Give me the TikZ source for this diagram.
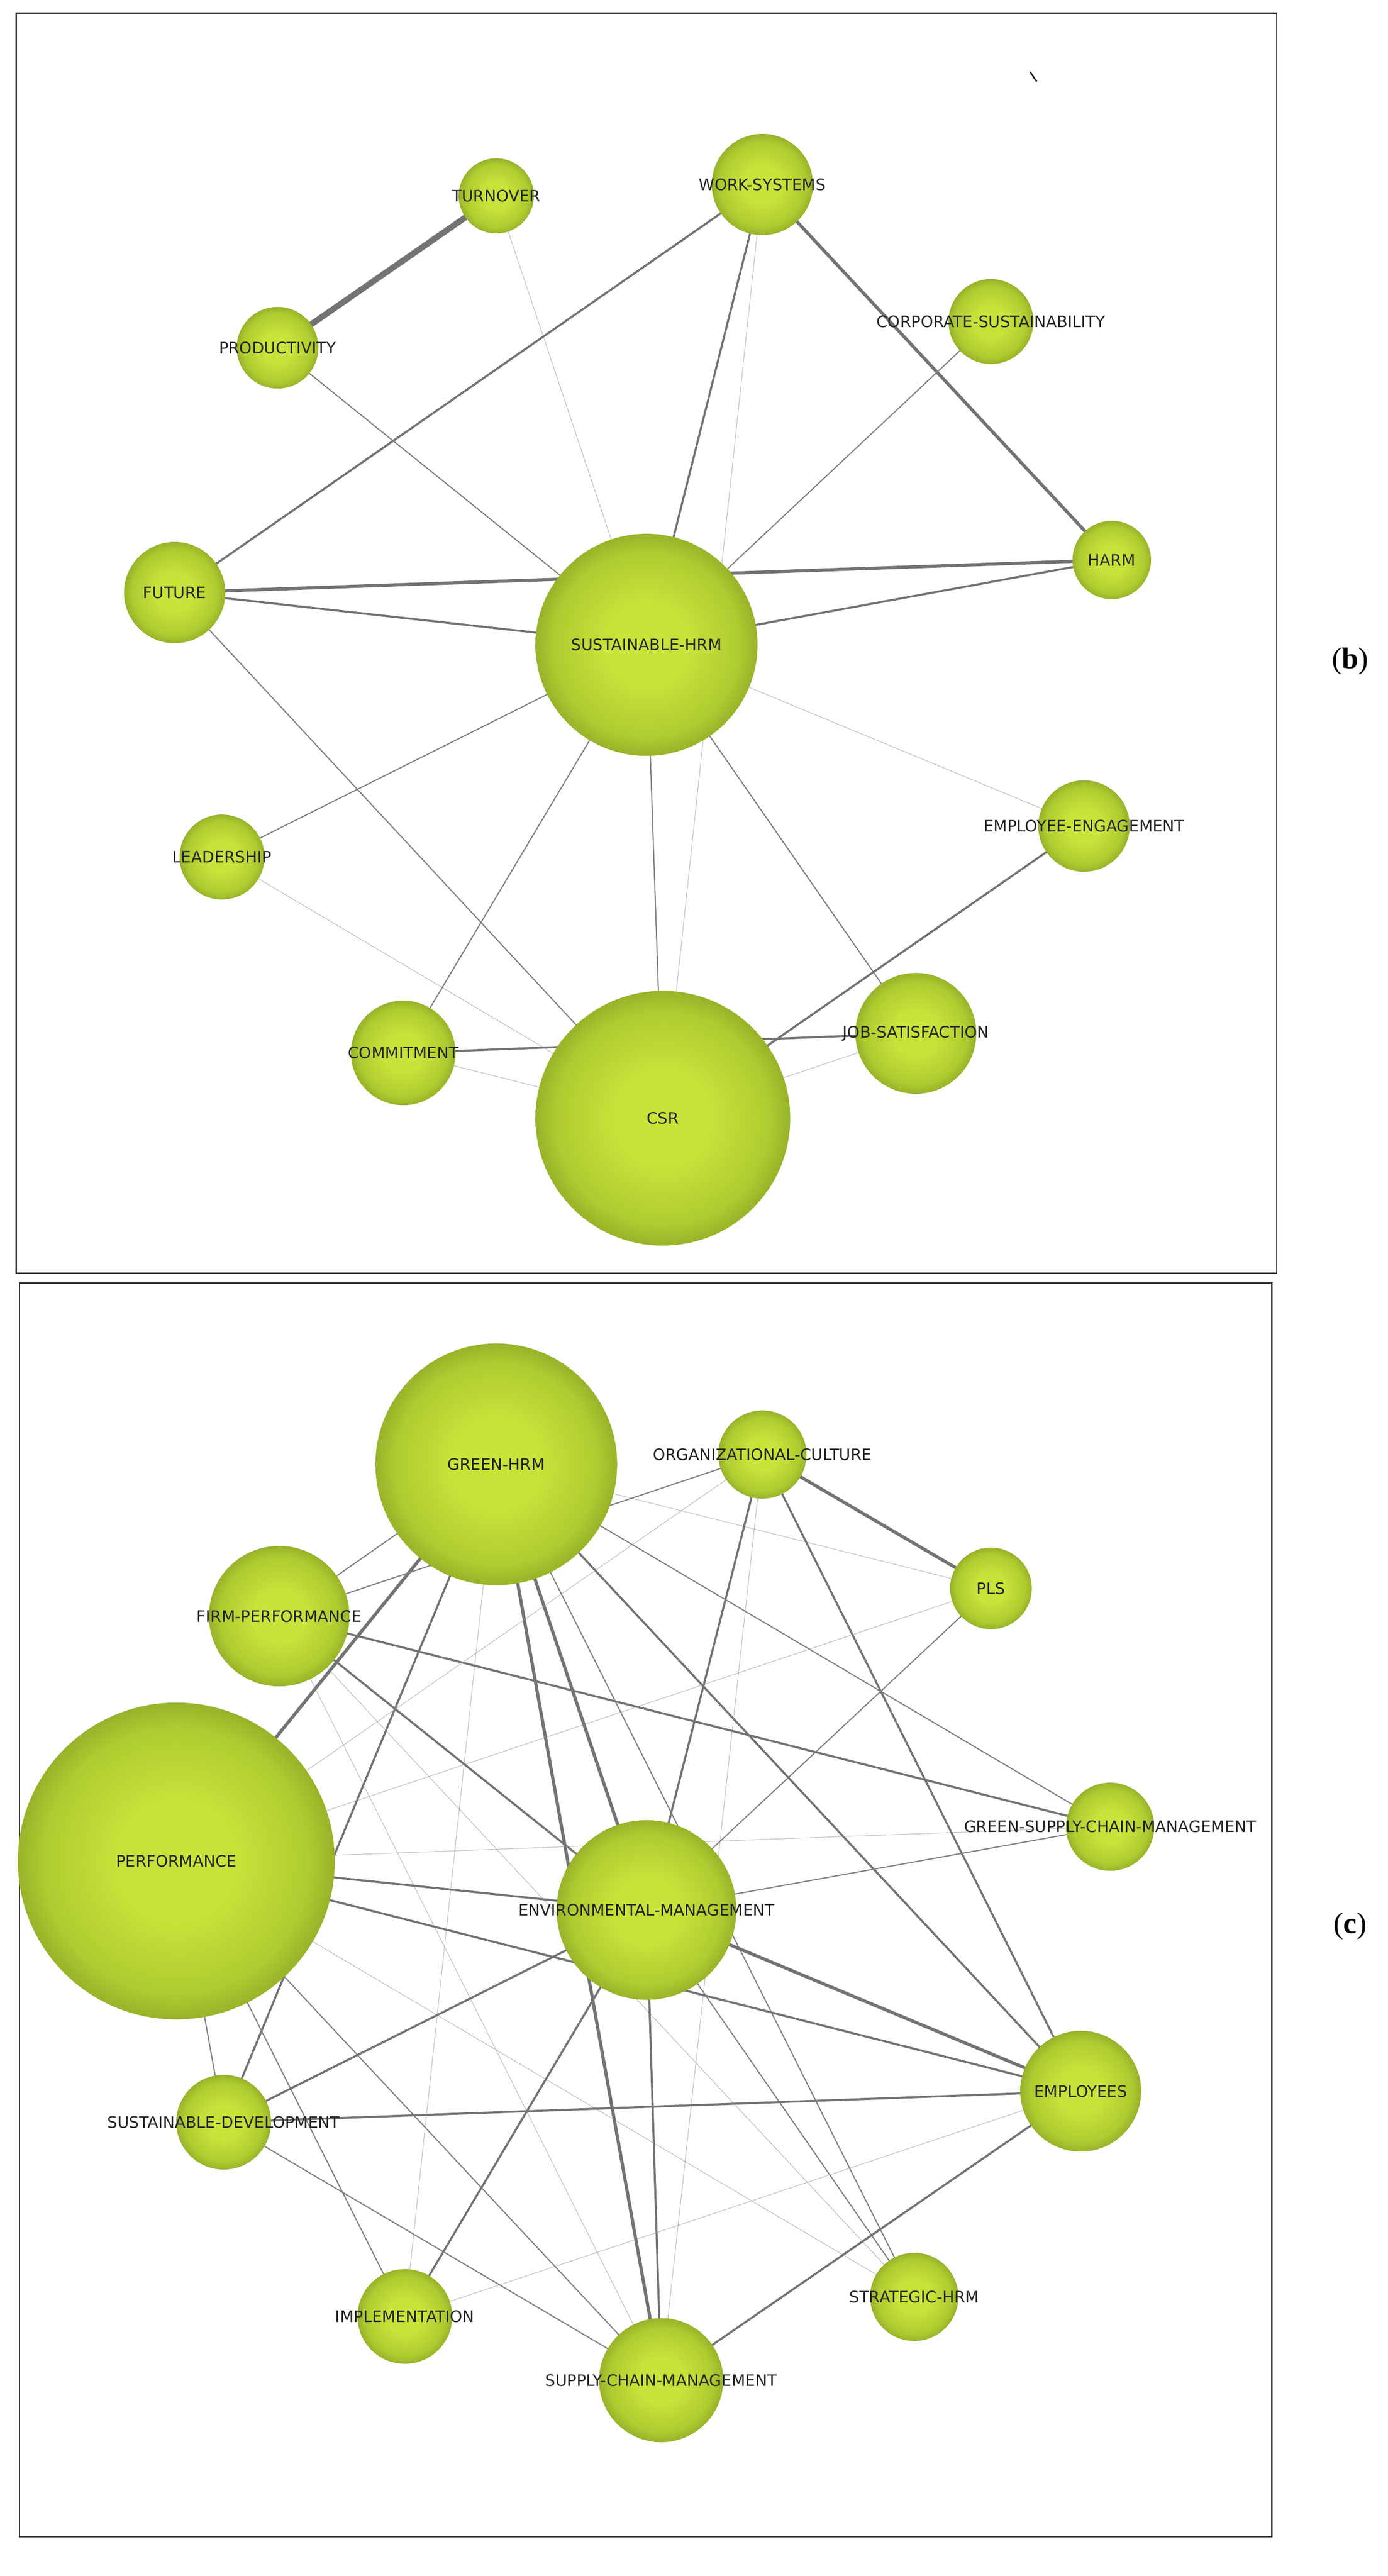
\documentclass[tikz,border=0pt]{standalone}
\usepackage{fontspec}
\setmainfont{DejaVu Sans}
\newfontfamily\serifb{Liberation Serif}
\usetikzlibrary{backgrounds}
\definecolor{sa}{HTML}{C9E33A}
\definecolor{sb}{HTML}{AECB30}
\definecolor{sc}{HTML}{7A9522}
\definecolor{sd}{HTML}{4C6213}
\pgfdeclareradialshading{sph}{\pgfpoint{0bp}{0bp}}{color(0bp)=(sa); color(9bp)=(sa); color(21bp)=(sb); color(30bp)=(sc); color(35bp)=(sd); color(50bp)=(sd)}
\tikzset{
 ball/.style={circle,inner sep=0pt,shading=sph},
 lab/.style={font=\fontsize{6.9}{8}\selectfont,text=black!85,inner sep=0pt},
 e1/.style={draw=black!45,line width=0.25pt,opacity=0.6},
 e2/.style={draw=black!50,line width=0.5pt},
 e3/.style={draw=black!55,line width=0.9pt},
 e4/.style={draw=black!55,line width=1.4pt},
 e5/.style={draw=black!55,line width=2.6pt},
 frame/.style={draw=black!80,line width=0.6pt},
 tag/.style={font=\serifb\fontsize{13}{15}\selectfont}
}
\newcommand\bn[4]{\node[ball,minimum size=#4*0.05cm] (#1) at (#2) {};\node[lab] (#1-t) at (#2) {#3};}
\begin{document}
\begin{tikzpicture}[x=0.025cm,y=-0.025cm]
\useasboundingbox (0,0) rectangle (850,1578);
\draw[frame] (10,8) rectangle (782,780);
\draw[frame] (12,786) rectangle (779,1554);
\node[tag] (tb) at (827,405) {(\textbf{b})};
\node[tag] (tc) at (827,1180) {(\textbf{c})};
\coordinate (m1) at (631,44); \coordinate (m2) at (635,50);
\draw[black,line width=0.6pt] (m1) -- (m2);
% top
\bn{turn}{304,120}{TURNOVER}{23}
\bn{work}{467,113}{WORK-SYSTEMS}{31}
\bn{prod}{170,213}{PRODUCTIVITY}{25}
\bn{corp}{607,197}{CORPORATE-SUSTAINABILITY}{26}
\bn{fut}{107,363}{FUTURE}{31}
\bn{shrm}{396,395}{SUSTAINABLE-HRM}{68}
\bn{harm}{681,343}{HARM}{24}
\bn{eng}{664,506}{EMPLOYEE-ENGAGEMENT}{28}
\bn{lead}{136,525}{LEADERSHIP}{26}
\bn{comm}{247,645}{COMMITMENT}{32}
\bn{job}{561,633}{JOB-SATISFACTION}{37}
\bn{csr}{406,685}{CSR}{78}
% bottom
\bn{ghrm}{304,897}{GREEN-HRM}{74}
\bn{orgc}{467,891}{ORGANIZATIONAL-CULTURE}{27}
\bn{pls}{607,973}{PLS}{25}
\bn{firm}{171,990}{FIRM-PERFORMANCE}{43}
\bn{perf}{108,1140}{PERFORMANCE}{97}
\bn{gscm}{680,1119}{GREEN-SUPPLY-CHAIN-MANAGEMENT}{27}
\bn{env}{396,1170}{ENVIRONMENTAL-MANAGEMENT}{55}
\bn{empl}{662,1281}{EMPLOYEES}{37}
\bn{sdev}{137,1300}{SUSTAINABLE-DEVELOPMENT}{29}
\bn{impl}{248,1419}{IMPLEMENTATION}{29}
\bn{strat}{560,1407}{STRATEGIC-HRM}{27}
\bn{scm}{405,1458}{SUPPLY-CHAIN-MANAGEMENT}{38}
\begin{pgfonlayer}{background}
\path[e5] (turn.center) -- (prod.center);
\path[e4] (work.center) -- (harm.center);
\path[e1] (turn.center) -- (shrm.center);
\path[e2] (prod.center) -- (shrm.center);
\path[e3] (work.center) -- (fut.center);
\path[e3] (work.center) -- (shrm.center);
\path[e1] (work.center) -- (csr.center);
\path[e2] (corp.center) -- (shrm.center);
\path[e4] (fut.center) -- (harm.center);
\path[e3] (fut.center) -- (shrm.center);
\path[e3] (harm.center) -- (shrm.center);
\path[e2] (fut.center) -- (csr.center);
\path[e1] (shrm.center) -- (eng.center);
\path[e2] (shrm.center) -- (lead.center);
\path[e2] (shrm.center) -- (comm.center);
\path[e2] (shrm.center) -- (csr.center);
\path[e2] (shrm.center) -- (job.center);
\path[e3] (eng.center) -- (csr.center);
\path[e1] (lead.center) -- (csr.center);
\path[e3] (comm.center) -- (job.center);
\path[e1] (comm.center) -- (csr.center);
\path[e1] (csr.center) -- (job.center);
% bottom edges
\path[e2] (ghrm.center) -- (firm.center);
\path[e4] (ghrm.center) -- (perf.center);
\path[e4] (ghrm.center) -- (env.center);
\path[e4] (ghrm.center) -- (scm.center);
\path[e3] (ghrm.center) -- (empl.center);
\path[e2] (ghrm.center) -- (gscm.center);
\path[e3] (ghrm.center) -- (sdev.center);
\path[e1] (ghrm.center) -- (impl.center);
\path[e2] (ghrm.center) -- (strat.center);
\path[e1] (ghrm.center) -- (pls.center);
\path[e2] (orgc.center) -- (firm.center);
\path[e1] (orgc.center) -- (perf.center);
\path[e3] (orgc.center) -- (env.center);
\path[e3] (orgc.center) -- (empl.center);
\path[e4] (orgc.center) -- (pls.center);
\path[e1] (orgc.center) -- (scm.center);
\path[e1] (pls.center) -- (perf.center);
\path[e2] (pls.center) -- (env.center);
\path[e3] (firm.center) -- (gscm.center);
\path[e3] (firm.center) -- (env.center);
\path[e1] (firm.center) -- (strat.center);
\path[e1] (firm.center) -- (scm.center);
\path[e3] (perf.center) -- (env.center);
\path[e3] (perf.center) -- (empl.center);
\path[e1] (perf.center) -- (gscm.center);
\path[e2] (perf.center) -- (sdev.center);
\path[e2] (perf.center) -- (scm.center);
\path[e1] (perf.center) -- (strat.center);
\path[e2] (perf.center) -- (impl.center);
\path[e2] (env.center) -- (gscm.center);
\path[e4] (env.center) -- (empl.center);
\path[e3] (env.center) -- (sdev.center);
\path[e3] (env.center) -- (impl.center);
\path[e3] (env.center) -- (scm.center);
\path[e2] (env.center) -- (strat.center);
\path[e3] (sdev.center) -- (empl.center);
\path[e2] (sdev.center) -- (scm.center);
\path[e1] (impl.center) -- (empl.center);
\path[e3] (scm.center) -- (empl.center);
\end{pgfonlayer}
\end{tikzpicture}
\end{document}
